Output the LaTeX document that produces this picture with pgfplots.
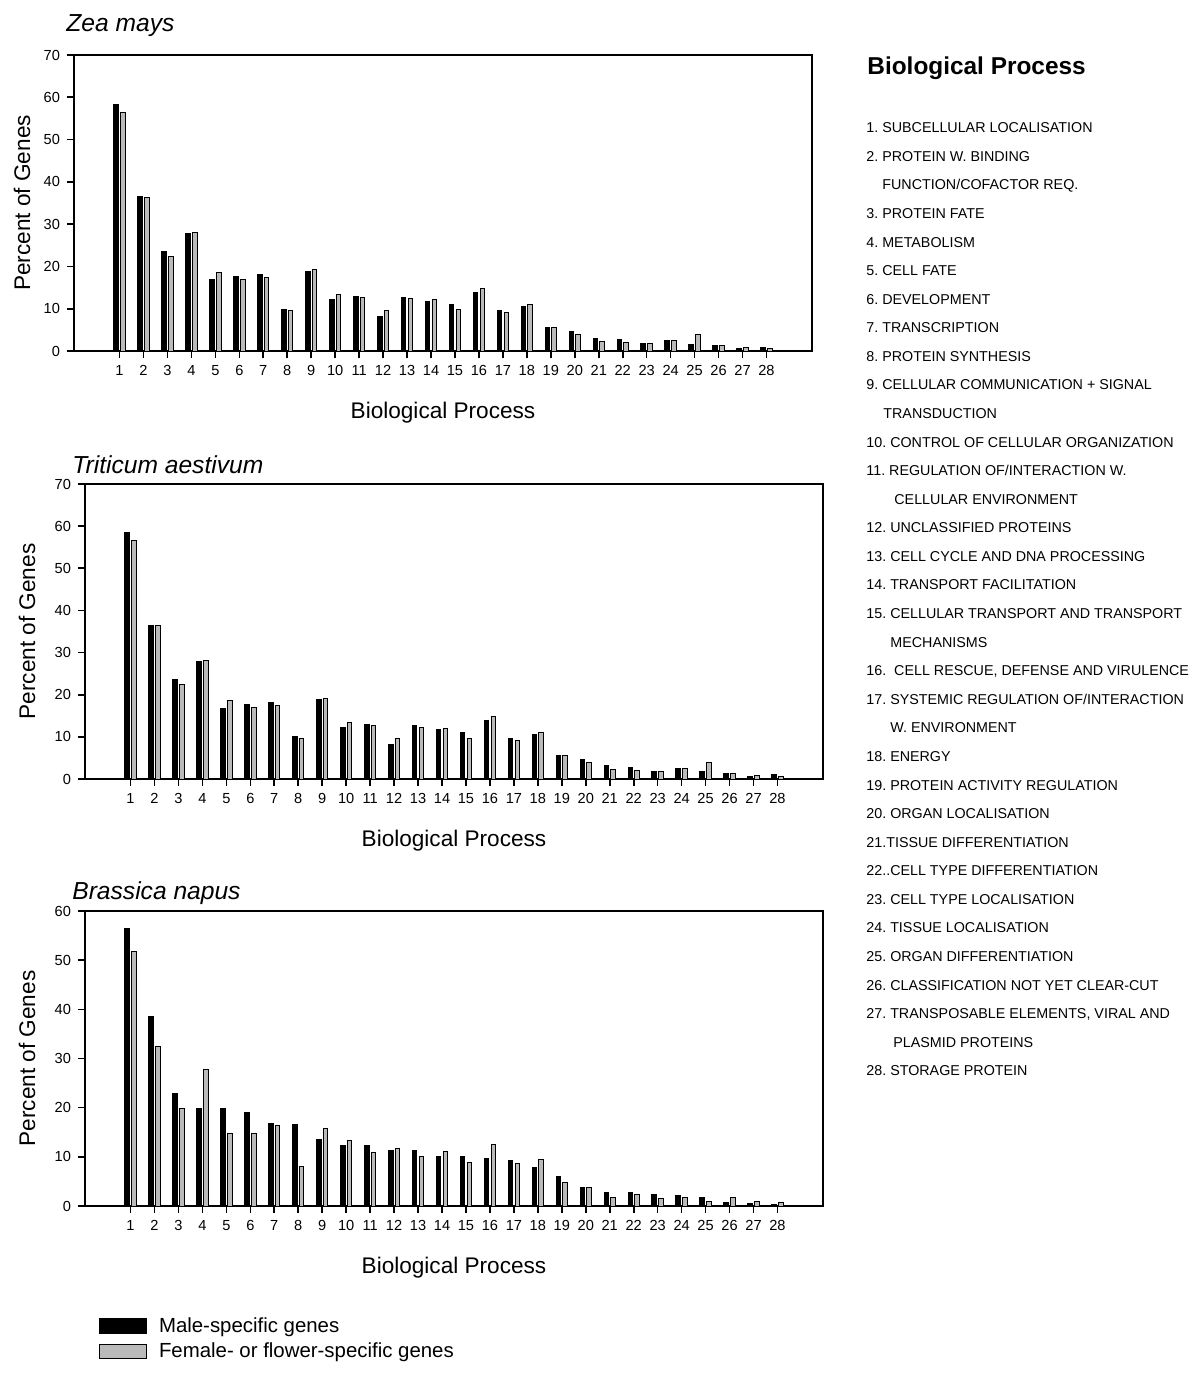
\documentclass[border=0pt]{standalone}
\usepackage{fontspec}
\setmainfont{Liberation Sans}
\usepackage{pgfplots}
\usepackage{pgfplotstable}
\pgfplotsset{compat=1.18}
\frenchspacing

\pgfplotstableread{
x m f
1 58.3 56.4
2 36.5 36.4
3 23.5 22.4
4 27.9 28.1
5 16.8 18.5
6 17.6 16.9
7 18.2 17.4
8 9.9 9.6
9 18.9 19.2
10 12.2 13.3
11 12.9 12.6
12 8.1 9.6
13 12.7 12.3
14 11.7 12.1
15 10.9 9.7
16 13.8 14.8
17 9.5 9.1
18 10.5 10.9
19 5.5 5.5
20 4.5 3.8
21 3.0 2.3
22 2.7 2.1
23 1.7 1.7
24 2.4 2.5
25 1.6 3.8
26 1.4 1.2
27 0.6 0.9
28 0.9 0.55
}\zea

\pgfplotstableread{
x m f
1 58.5 56.5
2 36.5 36.5
3 23.6 22.5
4 27.9 28.2
5 16.8 18.6
6 17.6 16.9
7 18.1 17.4
8 10.0 9.6
9 18.8 19.1
10 12.3 13.4
11 13.0 12.7
12 8.1 9.7
13 12.7 12.3
14 11.8 12.1
15 11.0 9.7
16 13.9 14.9
17 9.6 9.2
18 10.6 11.0
19 5.5 5.5
20 4.6 3.9
21 3.1 2.3
22 2.8 2.1
23 1.7 1.7
24 2.5 2.5
25 1.7 3.9
26 1.4 1.2
27 0.7 0.9
28 1.0 0.6
}\wheat

\pgfplotstableread{
x m f
1 56.5 51.7
2 38.6 32.5
3 22.9 19.9
4 19.9 27.8
5 19.8 14.8
6 19.1 14.8
7 16.7 16.3
8 16.6 8.1
9 13.6 15.7
10 12.3 13.3
11 12.3 10.9
12 11.3 11.7
13 11.3 10.0
14 10.1 11.1
15 10.0 8.9
16 9.7 12.5
17 9.3 8.7
18 7.9 9.4
19 6.0 4.8
20 3.7 3.8
21 2.7 1.8
22 2.7 2.3
23 2.3 1.6
24 2.2 1.8
25 1.7 0.9
26 0.75 1.8
27 0.5 0.9
28 0.4 0.8
}\brassica

\colorlet{fembar}{black!27}

\pgfplotsset{
  bioaxis/.style={
    scale only axis, width=369pt,
    xmin=-0.9, xmax=29.9, ymin=0,
    xtick={1,...,28}, ytick distance=10,
    tick pos=left, tick align=outside,
    major tick length=3.5pt,
    axis line style={line width=0.9pt},
    every tick/.style={black, line width=0.8pt},
    /pgf/number format/assume math mode=true,
    ticklabel style={font=\fontsize{7.3}{8.5}\selectfont},
    label style={font=\fontsize{11.3}{13}\selectfont},
    title style={font=\fontsize{12.3}{14}\selectfont\itshape, anchor=base west, inner sep=0pt, at={(axis description cs:0,1)}},
    xlabel={Biological Process}, ylabel={Percent of Genes},
    xlabel style={at={(axis description cs:0.5,0)}, anchor=center, yshift=-31pt},
  },
  male/.style={ybar, bar width=2.3pt, bar shift=-1.7pt, fill=black, draw=black, line width=0.5pt},
  female/.style={ybar, bar width=2.3pt, bar shift=1.7pt, fill=fembar, draw=black, line width=0.5pt},
}

\newcommand{\li}[3]{\node[anchor=base west, inner sep=0pt, font=\fontsize{7.15}{8.5}\selectfont] at (#1pt,{-(66.35+14.29*#2)*1pt}) {#3};}

\begin{document}
\begin{tikzpicture}
\path[use as bounding box] (0,0) rectangle (600pt,-692.5pt);

% Zea mays
\begin{axis}[bioaxis, at={(37pt,-175.5pt)}, anchor=south west, height=148pt, ymax=70,
  title={Zea mays}, title style={xshift=-4pt, yshift=5.5pt},
  ylabel style={at={(axis description cs:-0.0705,0.5)}, anchor=center}]
\addplot[male] table[x=x,y=m]{\zea};
\addplot[female] table[x=x,y=f]{\zea};
\end{axis}

% Triticum aestivum
\begin{axis}[bioaxis, at={(42.5pt,-389.5pt)}, anchor=south west, height=147.5pt, ymax=70,
  title={Triticum aestivum}, title style={xshift=-6.5pt, yshift=-0.5pt},
  ylabel style={at={(axis description cs:-0.0786,0.5)}, anchor=center}]
\addplot[male] table[x=x,y=m]{\wheat};
\addplot[female] table[x=x,y=f]{\wheat};
\end{axis}

% Brassica napus
\begin{axis}[bioaxis, at={(42.5pt,-603pt)}, anchor=south west, height=147.5pt, ymax=60,
  title={Brassica napus}, title style={xshift=-6.5pt, yshift=0pt},
  ylabel style={at={(axis description cs:-0.0786,0.5)}, anchor=center},
  legend style={at={(axis description cs:0.019,-0.379)}, anchor=north west, draw=none, fill=none,
    inner sep=0pt, outer sep=0pt, font=\fontsize{10.2}{12}\selectfont,
    nodes={inner sep=0pt}, row sep=3.75pt, column sep=6.2pt},
  legend cell align=left]
\addplot[male, legend image code/.code={\draw[fill=black, draw=black, line width=0.5pt] (0pt,-3.3pt) rectangle (23.3pt,3.9pt);}] table[x=x,y=m]{\brassica};
\addlegendentry{Male-specific genes}
\addplot[female, legend image code/.code={\draw[fill=fembar, draw=black, line width=0.5pt] (0pt,-3.3pt) rectangle (23.3pt,3.9pt);}] table[x=x,y=f]{\brassica};
\addlegendentry{Female- or flower-specific genes}
\end{axis}

% Right-hand list
\node[anchor=base west, inner sep=0pt, font=\fontsize{12.2}{14}\selectfont\bfseries] at (433.5pt,-37.2pt) {Biological Process};
\li{433}{0}{1. SUBCELLULAR LOCALISATION}
\li{433}{1}{2. PROTEIN W. BINDING}
\li{441}{2}{FUNCTION/COFACTOR REQ.}
\li{433}{3}{3. PROTEIN FATE}
\li{433}{4}{4. METABOLISM}
\li{433}{5}{5. CELL FATE}
\li{433}{6}{6. DEVELOPMENT}
\li{433}{7}{7. TRANSCRIPTION}
\li{433}{8}{8. PROTEIN SYNTHESIS}
\li{433}{9}{9. CELLULAR COMMUNICATION + SIGNAL}
\li{441.5}{10}{TRANSDUCTION}
\li{433}{11}{10. CONTROL OF CELLULAR ORGANIZATION}
\li{433}{12}{11. REGULATION OF/INTERACTION W.}
\li{447}{13}{CELLULAR ENVIRONMENT}
\li{433}{14}{12. UNCLASSIFIED PROTEINS}
\li{433}{15}{13. CELL CYCLE AND DNA PROCESSING}
\li{433}{16}{14. TRANSPORT FACILITATION}
\li{433}{17}{15. CELLULAR TRANSPORT AND TRANSPORT}
\li{445}{18}{MECHANISMS}
\li{433}{19}{16.\ \ CELL RESCUE, DEFENSE AND VIRULENCE}
\li{433}{20}{17. SYSTEMIC REGULATION OF/INTERACTION}
\li{445}{21}{W. ENVIRONMENT}
\li{433}{22}{18. ENERGY}
\li{433}{23}{19. PROTEIN ACTIVITY REGULATION}
\li{433}{24}{20. ORGAN LOCALISATION}
\li{433}{25}{21.TISSUE DIFFERENTIATION}
\li{433}{26}{22..CELL TYPE DIFFERENTIATION}
\li{433}{27}{23. CELL TYPE LOCALISATION}
\li{433}{28}{24. TISSUE LOCALISATION}
\li{433}{29}{25. ORGAN DIFFERENTIATION}
\li{433}{30}{26. CLASSIFICATION NOT YET CLEAR-CUT}
\li{433}{31}{27. TRANSPOSABLE ELEMENTS, VIRAL AND}
\li{446.5}{32}{PLASMID PROTEINS}
\li{433}{33}{28. STORAGE PROTEIN}
\end{tikzpicture}
\end{document}
